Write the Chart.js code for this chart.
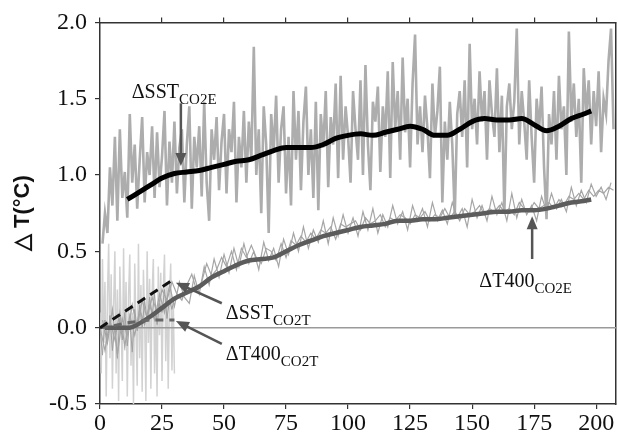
<!DOCTYPE html>
<html>
<head>
<meta charset="utf-8">
<script src="https://cdn.jsdelivr.net/npm/chart.js@4.4.1/dist/chart.umd.min.js"></script>
<style>
  html, body { margin: 0; padding: 0; background: #fff; }
  #wrap { width: 618px; height: 440px; }
</style>
</head>
<body>
<div id="wrap"><canvas id="chart" width="618" height="440"></canvas></div>
<script>
// Axis ticks
const xTicks = [0, 25, 50, 75, 100, 125, 150, 175, 200];
const yTicks = [-0.5, 0.0, 0.5, 1.0, 1.5, 2.0];

// Smoothed curves (year, value)
const smoothYears = [11, 15, 20, 25, 30, 35, 40, 45, 50, 55, 60, 65, 70, 75, 80, 85, 90, 95, 100,
  105, 110, 115, 120, 125, 130, 135, 140, 145, 150, 155, 160, 165, 170, 175, 180, 185, 190, 195, 198];
const sstCo2eSmooth = [0.84, 0.88, 0.93, 0.98, 1.01, 1.02, 1.03, 1.05, 1.07, 1.09, 1.10, 1.13, 1.16, 1.18, 1.18, 1.18, 1.20, 1.24, 1.26,
  1.27, 1.26, 1.28, 1.30, 1.32, 1.30, 1.26, 1.26, 1.30, 1.35, 1.37, 1.36, 1.36, 1.37, 1.33, 1.29, 1.32, 1.37, 1.40, 1.42];

const t400Years = [2, 8, 12, 15, 20, 25, 30, 35, 40, 45, 50, 55, 60, 65, 70, 75, 80, 85, 90, 95, 100,
  105, 110, 115, 120, 125, 130, 135, 140, 145, 150, 155, 160, 165, 170, 175, 180, 185, 190, 195, 198];
const t400Co2eSmooth = [0.0, 0.0, 0.0, 0.02, 0.07, 0.13, 0.19, 0.23, 0.27, 0.33, 0.37, 0.41, 0.44, 0.45, 0.46, 0.50, 0.54, 0.57, 0.60, 0.62, 0.64,
  0.66, 0.67, 0.68, 0.70, 0.70, 0.71, 0.71, 0.72, 0.73, 0.74, 0.75, 0.76, 0.76, 0.77, 0.77, 0.78, 0.80, 0.82, 0.83, 0.84];

// Raw annual dSST, CO2E run (years 1..207)
const sstCo2eRaw = [
  0.55, 0.75, 0.62, 1.05, 0.80, 1.25, 0.70, 1.30, 0.85, 1.02,
  0.72, 1.40, 0.95, 1.20, 0.78, 1.10, 1.38, 0.82, 1.15, 1.00,
  1.32, 0.85, 1.28, 0.92, 1.12, 1.42, 0.80, 1.22, 0.95, 1.35,
  0.88, 1.18, 1.30, 0.82, 1.20, 1.45, 0.78, 1.25, 1.05, 1.32,
  0.86, 1.48, 0.95, 0.70, 1.30, 1.10, 1.38, 0.90, 1.22, 1.40,
  0.88, 1.30, 1.15, 1.48, 0.82, 1.25, 1.05, 1.42, 0.95, 1.35,
  1.10, 1.84, 1.00, 1.30, 0.75, 1.45, 1.20, 0.62, 1.40, 1.15,
  1.52, 0.95, 1.30, 1.45, 0.88, 1.25, 0.80, 1.55, 1.10, 1.42,
  0.90, 1.35, 1.58, 1.00, 1.30, 0.85, 1.48, 0.77, 1.40, 1.18,
  1.55, 0.92, 1.38, 1.20, 1.60, 0.98, 1.65, 1.10, 1.45, 1.25,
  0.95, 1.55, 1.30, 1.10, 1.62, 1.00, 1.72, 1.20, 0.90, 1.48,
  1.35, 1.58, 1.02, 1.45, 1.25, 1.68, 0.98, 1.74, 1.30, 1.55,
  1.10, 1.77, 1.28, 1.50, 1.05, 1.60, 1.92, 1.20, 1.45, 1.15,
  1.52, 1.30, 0.98, 1.60, 1.25, 1.42, 1.71, 0.82, 1.35, 1.10,
  1.48, 1.20, 0.73, 1.40, 1.55, 1.25, 1.62, 1.05, 1.86, 1.30,
  1.50, 1.20, 1.68, 1.35, 1.55, 1.10, 1.62, 1.40, 1.25, 1.70,
  1.15, 1.52, 0.75, 1.45, 1.60, 1.30, 1.48, 1.96, 1.20, 1.55,
  1.35, 1.10, 1.62, 1.25, 0.95, 1.50, 1.30, 1.58, 1.05, 0.71,
  1.40, 1.20, 1.55, 1.10, 1.65, 1.30, 1.45, 1.00, 1.94, 1.35,
  1.60, 1.25, 1.50, 0.95, 1.70, 1.40, 1.62, 1.20, 1.55, 1.32,
  1.68, 1.15, 1.50, 1.40, 1.75, 1.96, 1.30
];

// Raw dT400, CO2E run: two members, every 2 years (A: 0..206, B: 1..207)
const t400Co2eRawA = [
  0.00, -0.15, 0.05, -0.08, 0.10, -0.12, 0.08, -0.05, 0.12, 0.02,
  0.15, 0.05, 0.22, 0.10, 0.28, 0.14, 0.30, 0.20, 0.16, 0.34,
  0.22, 0.40, 0.28, 0.45, 0.33, 0.48, 0.36, 0.52, 0.40, 0.55,
  0.42, 0.50, 0.38, 0.56, 0.44, 0.52, 0.40, 0.58, 0.48, 0.62,
  0.50, 0.66, 0.52, 0.64, 0.56, 0.70, 0.55, 0.72, 0.60, 0.74,
  0.62, 0.72, 0.60, 0.76, 0.64, 0.78, 0.62, 0.74, 0.66, 0.80,
  0.68, 0.76, 0.64, 0.80, 0.70, 0.78, 0.66, 0.82, 0.70, 0.77,
  0.68, 0.82, 0.72, 0.78, 0.66, 0.84, 0.72, 0.80, 0.70, 0.86,
  0.74, 0.82, 0.70, 0.88, 0.72, 0.84, 0.74, 0.80, 0.70, 0.86,
  0.76, 0.88, 0.78, 0.84, 0.76, 0.92, 0.80, 0.90, 0.82, 0.94,
  0.86, 0.92, 0.84, 0.95
];
const t400Co2eRawB = [
  0.05, -0.10, 0.12, -0.18, 0.06, -0.05, 0.15, 0.00, 0.18, 0.06,
  0.20, 0.10, 0.25, 0.18, 0.30, 0.22, 0.18, 0.28, 0.35, 0.24,
  0.30, 0.42, 0.34, 0.38, 0.46, 0.40, 0.50, 0.38, 0.52, 0.46,
  0.54, 0.46, 0.42, 0.52, 0.50, 0.44, 0.55, 0.46, 0.57, 0.54,
  0.60, 0.56, 0.62, 0.58, 0.64, 0.62, 0.66, 0.58, 0.68, 0.66,
  0.68, 0.70, 0.64, 0.72, 0.68, 0.70, 0.74, 0.66, 0.72, 0.70,
  0.74, 0.72, 0.68, 0.74, 0.72, 0.76, 0.70, 0.74, 0.72, 0.78,
  0.72, 0.76, 0.70, 0.78, 0.74, 0.76, 0.80, 0.74, 0.78, 0.76,
  0.80, 0.76, 0.78, 0.74, 0.82, 0.78, 0.76, 0.82, 0.78, 0.80,
  0.82, 0.78, 0.84, 0.80, 0.86, 0.84, 0.88, 0.84, 0.90, 0.86,
  0.90, 0.88, 0.92, 0.90
];

// Raw CO2T runs (first 30 years)
const sstCo2tRaw = [ // every half year, 0..30
  0.10, -0.30, 0.45, -0.10, 0.30, -0.45, 0.20, 0.55, -0.20, 0.35,
  -0.40, 0.15, 0.50, -0.30, 0.25, -0.48, 0.40, 0.05, -0.35, 0.52,
  -0.15, 0.30, -0.45, 0.20, 0.48, -0.25, 0.10, -0.50, 0.42, 0.00,
  -0.38, 0.55, -0.20, 0.28, -0.42, 0.38, 0.05, -0.48, 0.50, -0.10,
  0.32, -0.40, 0.22, 0.45, -0.30, 0.15, -0.45, 0.40, -0.05, 0.36,
  -0.35, 0.25, 0.48, -0.22, 0.30, -0.40, 0.18, 0.42, -0.28, 0.20,
  -0.30
];
const t400Co2tRaw = [ // every year, 0..30
  0.00, -0.18, 0.05, -0.10, 0.08, -0.15, 0.02, -0.20, 0.06, -0.08,
  0.10, -0.12, 0.05, -0.16, 0.12, -0.02, 0.15, 0.00, 0.18, 0.04,
  0.20, 0.08, 0.22, 0.02, 0.16, 0.10, 0.25, 0.06, 0.18, 0.12, 0.20
];

// CO2T trend lines (dashed)
const sstCo2tTrendYears = [0, 30];
const sstCo2tTrend = [0.0, 0.32];
const t400Co2tTrendYears = [0, 5, 10, 15, 20, 25, 30];
const t400Co2tTrend = [0.0, 0.01, 0.03, 0.04, 0.05, 0.05, 0.05];

const zeroLineYears = [0, 208];
const zeroLine = [0, 0];

// Annotations: label, subscript, text anchor and arrow (data coords)
const notes = [
  { main: 'ΔSST', sub: 'CO2E', tx: 12.8, ty: 1.54, from: [32.6, 1.47], to: [32.6, 1.06] },
  { main: 'ΔSST', sub: 'CO2T', tx: 50.7, ty: 0.09, from: [49.1, 0.16], to: [30.6, 0.295] },
  { main: 'ΔT400', sub: 'CO2T', tx: 50.7, ty: -0.18, from: [49.1, -0.106], to: [30.6, 0.043] },
  { main: 'ΔT400', sub: 'CO2E', tx: 152.9, ty: 0.30, from: [174.2, 0.45], to: [174.2, 0.73] }
];

function pts(xs, ys) {
  return ys.map((v, i) => ({ x: xs[i], y: v }));
}
function series(ys, start, step) {
  return ys.map((v, i) => ({ x: start + i * step, y: v }));
}

const serif = "'Liberation Serif', 'Times New Roman', serif";

const line = (data, color, width, order, extra) => Object.assign({
  data: data,
  borderColor: color,
  borderWidth: width,
  pointRadius: 0,
  tension: 0,
  fill: false,
  order: order
}, extra || {});

// Annotation plugin: arrows and labels with subscripts
const notesPlugin = {
  id: 'notes',
  afterDatasetsDraw(chart) {
    const { ctx, scales: { x, y } } = chart;
    ctx.save();
    notes.forEach(n => {
      const x1 = x.getPixelForValue(n.from[0]), y1 = y.getPixelForValue(n.from[1]);
      const x2 = x.getPixelForValue(n.to[0]), y2 = y.getPixelForValue(n.to[1]);
      const ang = Math.atan2(y2 - y1, x2 - x1);
      const head = 13, half = 5.5;
      ctx.strokeStyle = '#555';
      ctx.fillStyle = '#555';
      ctx.lineWidth = 2.5;
      ctx.beginPath();
      ctx.moveTo(x1, y1);
      ctx.lineTo(x2 - Math.cos(ang) * head * 0.8, y2 - Math.sin(ang) * head * 0.8);
      ctx.stroke();
      ctx.beginPath();
      ctx.moveTo(x2, y2);
      ctx.lineTo(x2 - Math.cos(ang) * head - Math.sin(ang) * half, y2 - Math.sin(ang) * head + Math.cos(ang) * half);
      ctx.lineTo(x2 - Math.cos(ang) * head + Math.sin(ang) * half, y2 - Math.sin(ang) * head - Math.cos(ang) * half);
      ctx.closePath();
      ctx.fill();

      const tx = x.getPixelForValue(n.tx), ty = y.getPixelForValue(n.ty);
      ctx.fillStyle = '#111';
      ctx.textBaseline = 'middle';
      ctx.textAlign = 'left';
      ctx.font = '20px ' + serif;
      ctx.fillText(n.main, tx, ty);
      const w = ctx.measureText(n.main).width;
      ctx.font = '15px ' + serif;
      ctx.fillText(n.sub, tx + w, ty + 7);
    });
    ctx.restore();
  }
};

new Chart(document.getElementById('chart'), {
  type: 'line',
  data: {
    datasets: [
      line(series(sstCo2tRaw, 0, 0.5), '#d2d2d2', 1.5, 90),
      line(series(t400Co2tRaw, 0, 1), '#a0a0a0', 1, 85),
      line(series(sstCo2eRaw, 1, 1), '#adadad', 2.6, 80),
      line(series(t400Co2eRawA, 0, 2), '#a6a6a6', 1.2, 70),
      line(series(t400Co2eRawB, 1, 2), '#a6a6a6', 1.2, 69),
      line(pts(zeroLineYears, zeroLine), '#9a9a9a', 1.5, 60),
      line(pts(t400Years, t400Co2eSmooth), '#5c5c5c', 4.5, 20, { cubicInterpolationMode: 'monotone' }),
      line(pts(smoothYears, sstCo2eSmooth), '#000', 5, 10, { cubicInterpolationMode: 'monotone' }),
      line(pts(sstCo2tTrendYears, sstCo2tTrend), '#111', 3, 5, { borderDash: [9, 6] }),
      line(pts(t400Co2tTrendYears, t400Co2tTrend), '#666', 3, 6, { borderDash: [8, 6] })
    ]
  },
  options: {
    responsive: false,
    animation: false,
    events: [],
    layout: { padding: { top: 12, right: 2, left: 0, bottom: 0 } },
    plugins: { legend: { display: false }, tooltip: { enabled: false } },
    scales: {
      x: {
        type: 'linear',
        min: 0,
        max: 208,
        afterFit(s) { s.height = 36; },
        afterBuildTicks(s) { s.ticks = xTicks.map(v => ({ value: v })); },
        grid: { drawOnChartArea: false, tickLength: 5, color: '#333', lineWidth: 1.2 },
        border: { color: '#333', width: 1.5 },
        ticks: { color: '#111', font: { family: serif, size: 24 }, padding: 0, maxRotation: 0 }
      },
      x2: {
        type: 'linear',
        position: 'top',
        min: 0,
        max: 208,
        afterFit(s) { s.height = 5; },
        afterBuildTicks(s) { s.ticks = xTicks.map(v => ({ value: v })); },
        grid: { drawOnChartArea: false, tickLength: 5, color: '#333', lineWidth: 1.2 },
        border: { color: '#333', width: 1.5 },
        ticks: { display: false }
      },
      y: {
        min: -0.5,
        max: 2.0,
        afterFit(s) { s.width = 100; },
        afterBuildTicks(s) { s.ticks = yTicks.map(v => ({ value: v })); },
        grid: { drawOnChartArea: false, tickLength: 5, color: '#333', lineWidth: 1.2 },
        border: { color: '#333', width: 1.5 },
        ticks: { color: '#111', font: { family: serif, size: 24 }, padding: 8, callback: v => v.toFixed(1) },
        title: {
          display: true,
          text: '△ T(°C)',
          color: '#111',
          font: { family: "'Liberation Sans', Arial, sans-serif", size: 22, weight: 'bold' },
          padding: { top: 10, bottom: 0 }
        }
      },
      y2: {
        position: 'right',
        min: -0.5,
        max: 2.0,
        afterFit(s) { s.width = 0; },
        grid: { drawOnChartArea: false, drawTicks: false },
        border: { color: '#333', width: 1.5 },
        ticks: { display: false }
      }
    }
  },
  plugins: [notesPlugin]
});
</script>
</body>
</html>
